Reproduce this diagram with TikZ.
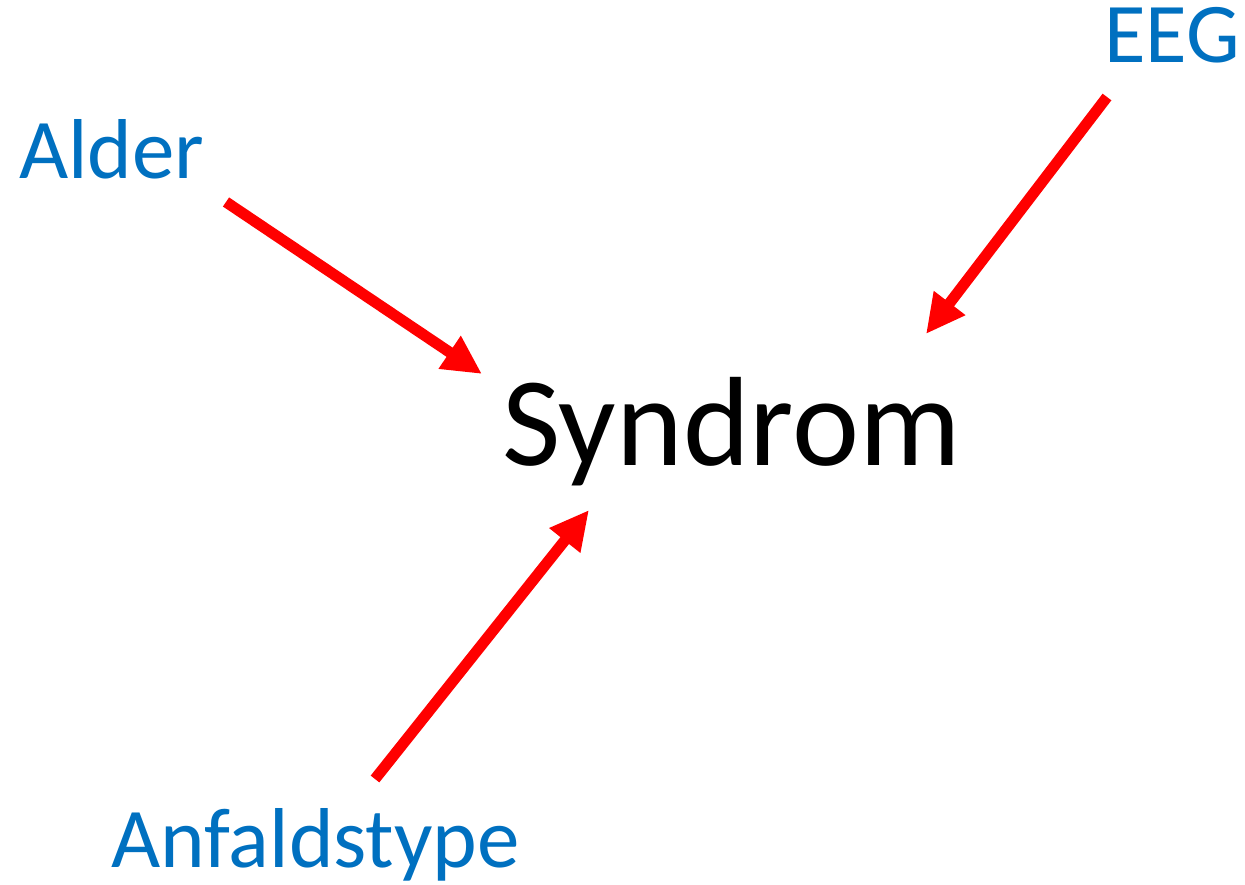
\documentclass[tikz,border=0pt]{standalone}
\usepackage{fontspec}
\setmainfont{Carlito}
\usetikzlibrary{arrows.meta}
\definecolor{labelblue}{RGB}{0,112,192}
\definecolor{arrowred}{RGB}{255,0,0}
\newcommand{\labelsize}{\fontsize{85}{100}\selectfont}
\newcommand{\mainsize}{\fontsize{127}{150}\selectfont}

\begin{document}
\begin{tikzpicture}[x=1pt, y=-1pt, >={Triangle[width=37pt, length=39pt]}]
    \useasboundingbox (0, 0) rectangle (1245, 885);

    % labels
    \node [anchor=base west, inner sep=0pt, text=labelblue, font=\labelsize] (alder) at (19, 179) {Alder};
    \node [anchor=base east, inner sep=0pt, text=labelblue, font=\labelsize] (eeg) at (1240, 63) {EEG};
    \node [anchor=base west, inner sep=0pt, text depth=15pt, text=labelblue, font=\labelsize] (anfald) at (111, 867) {Anfaldstype};
    \node [anchor=base west, inner sep=0pt, text=black, font=\mainsize] (syndrom) at (502, 465) {Syndrom};

    % arrow ends
    \coordinate (alder-out) at (226, 202);
    \coordinate (alder-in) at (482, 374);
    \coordinate (eeg-out) at (1107, 97);
    \coordinate (eeg-in) at (926, 334);
    \coordinate (anfald-out) at (375, 779);
    \coordinate (anfald-in) at (589, 510);

    % arrows
    \draw [->, arrowred, line width=11pt] (alder-out) -- (alder-in);
    \draw [->, arrowred, line width=11pt] (eeg-out) -- (eeg-in);
    \draw [->, arrowred, line width=11pt] (anfald-out) -- (anfald-in);
\end{tikzpicture}
\end{document}
